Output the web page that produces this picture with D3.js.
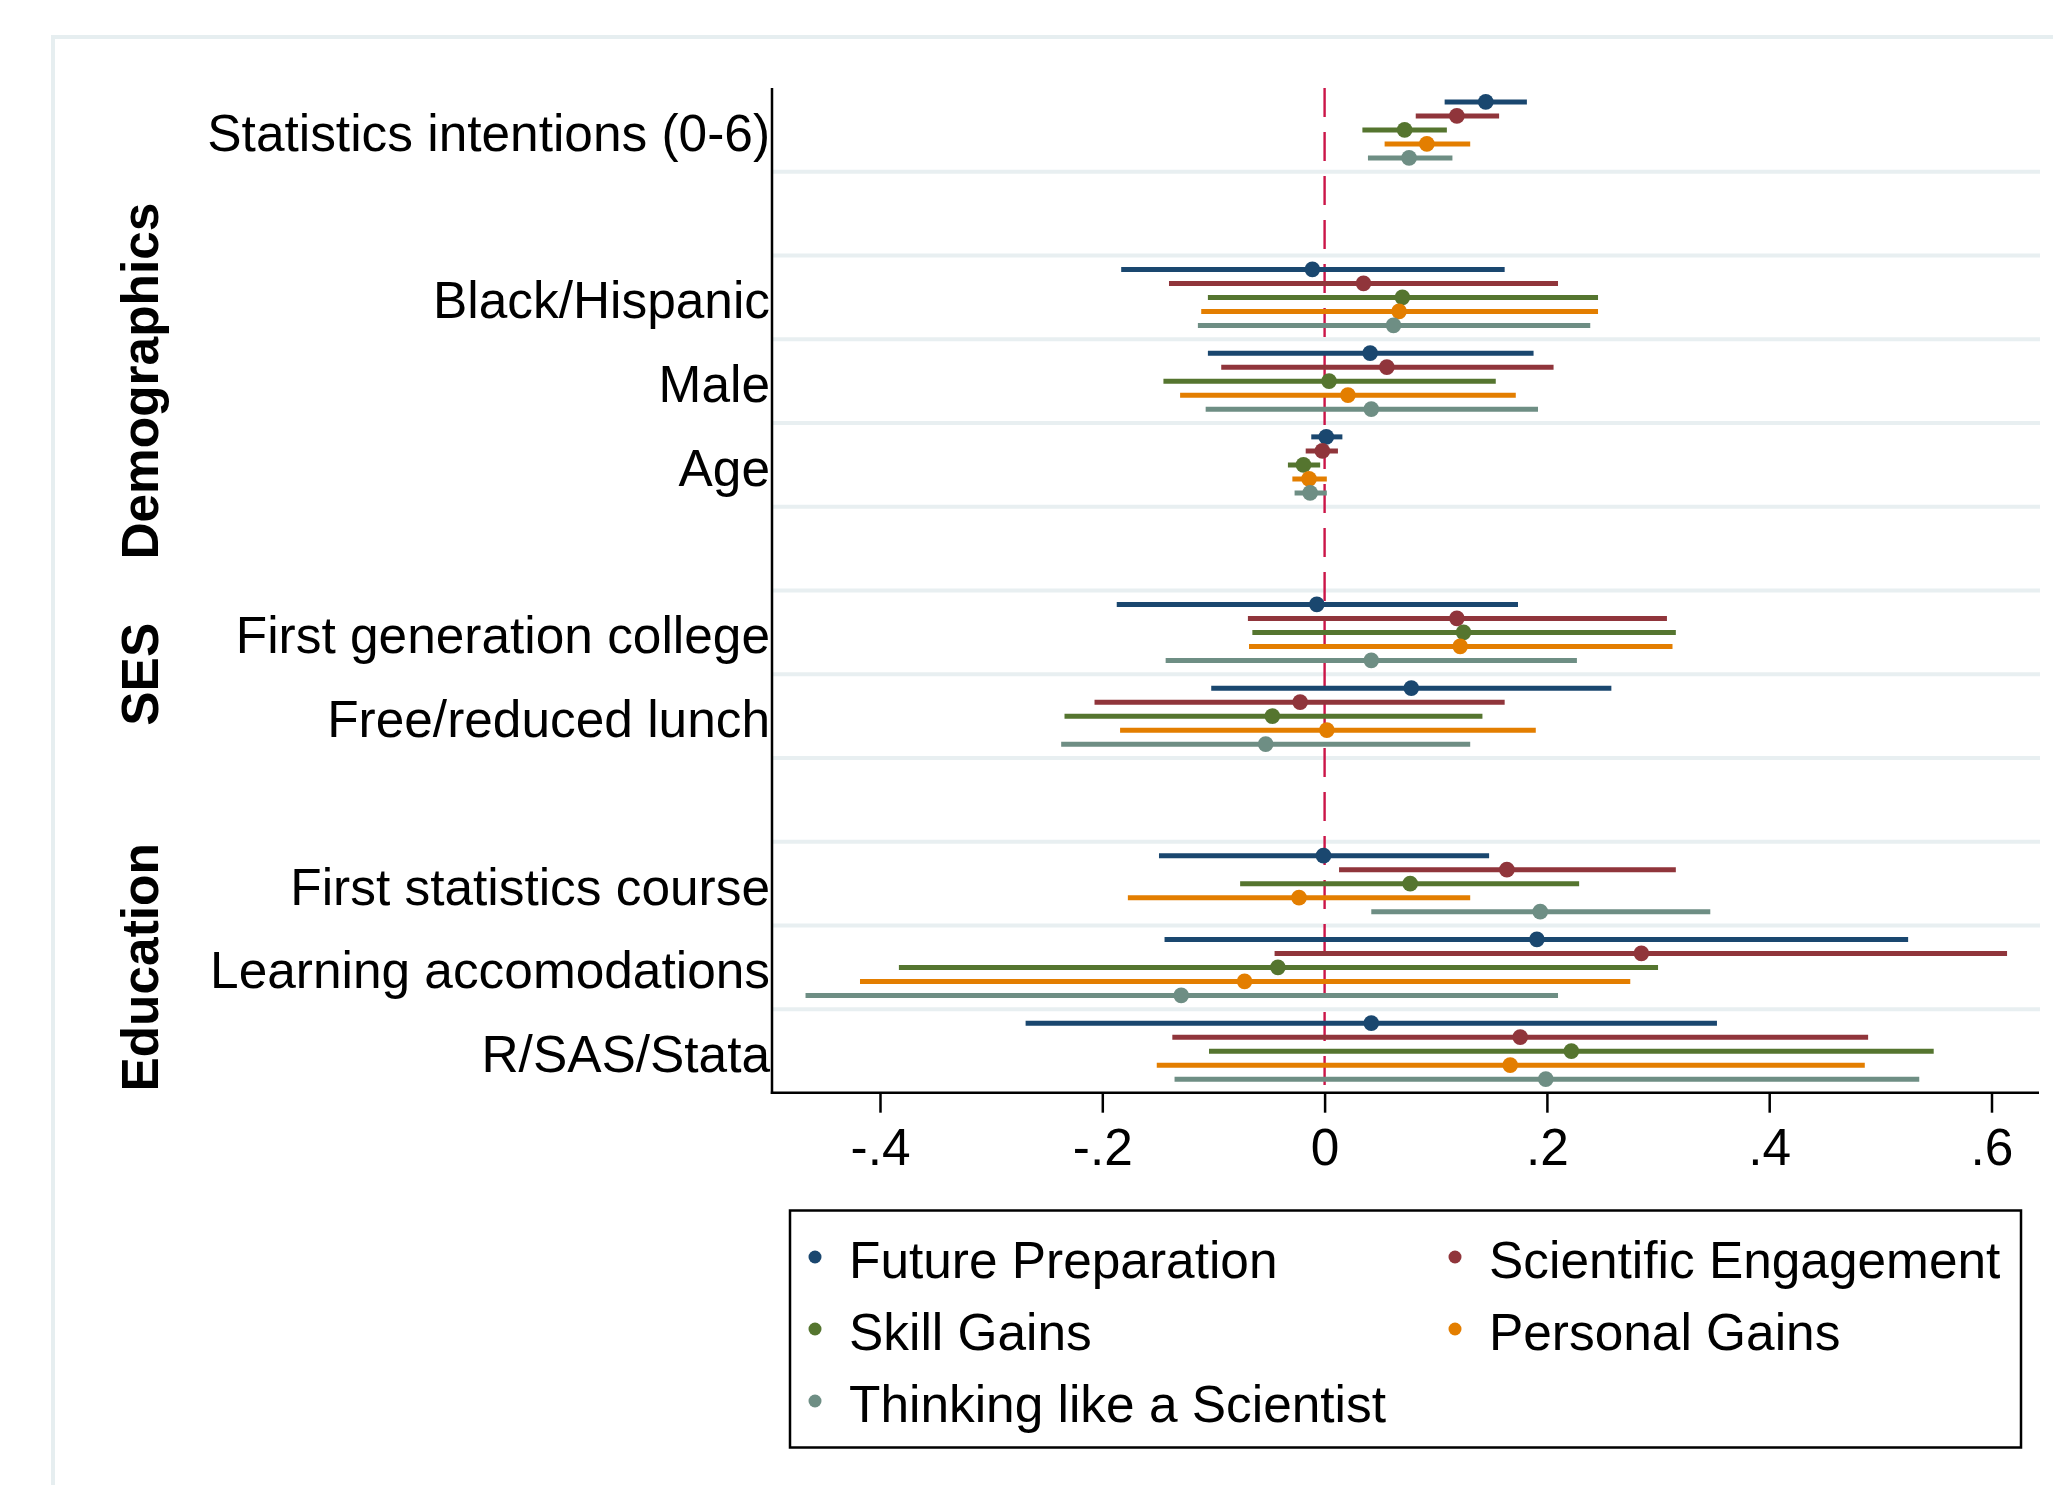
<!DOCTYPE html>
<html>
<head>
<meta charset="utf-8">
<script src="https://cdn.jsdelivr.net/npm/d3@7"></script>
<style>
  html, body { margin: 0; padding: 0; background: #ffffff; }
  svg { display: block; }
  text { font-family: "Liberation Sans", Arial, Helvetica, sans-serif; fill: #000; }
</style>
</head>
<body>
<svg id="chart" width="2053" height="1485"></svg>
<script>
// ---------------- DATA ----------------
const categories = [
  "Statistics intentions (0-6)", "Black/Hispanic", "Male", "Age",
  "First generation college", "Free/reduced lunch",
  "First statistics course", "Learning accomodations", "R/SAS/Stata"
];
// row slots (blank slots are group header gaps)
const slots = [
  "Statistics intentions (0-6)", "_gap1", "Black/Hispanic", "Male", "Age",
  "_gap2", "First generation college", "Free/reduced lunch",
  "_gap3", "First statistics course", "Learning accomodations", "R/SAS/Stata"
];
const groupNames = ["Demographics", "SES", "Education"];
const groupFirst = ["Black/Hispanic", "First generation college", "First statistics course"];
const groupLast  = ["Age", "Free/reduced lunch", "R/SAS/Stata"];

const seriesNames = ["Future Preparation", "Scientific Engagement", "Skill Gains", "Personal Gains", "Thinking like a Scientist"];
const seriesColors = ["#1a476f", "#90353b", "#55752f", "#e37e00", "#6e8e84"];

const fpEst = [0.145, -0.011, 0.041, 0.0015, -0.007, 0.078, -0.001, 0.191, 0.042];
const fpLo  = [0.108, -0.183, -0.105, -0.012, -0.187, -0.102, -0.149, -0.144, -0.269];
const fpHi  = [0.182, 0.162, 0.188, 0.016, 0.174, 0.258, 0.148, 0.525, 0.353];

const seEst = [0.119, 0.035, 0.056, -0.002, 0.119, -0.022, 0.164, 0.285, 0.176];
const seLo  = [0.082, -0.140, -0.093, -0.017, -0.069, -0.207, 0.013, -0.045, -0.137];
const seHi  = [0.157, 0.210, 0.206, 0.012, 0.308, 0.162, 0.316, 0.614, 0.489];

const sgEst = [0.072, 0.070, 0.004, -0.019, 0.125, -0.047, 0.077, -0.042, 0.222];
const sgLo  = [0.034, -0.105, -0.145, -0.033, -0.065, -0.234, -0.076, -0.383, -0.104];
const sgHi  = [0.110, 0.246, 0.154, -0.004, 0.316, 0.142, 0.229, 0.300, 0.548];

const pgEst = [0.092, 0.067, 0.021, -0.014, 0.122, 0.002, -0.023, -0.072, 0.167];
const pgLo  = [0.054, -0.111, -0.130, -0.029, -0.068, -0.184, -0.177, -0.418, -0.151];
const pgHi  = [0.131, 0.246, 0.172, 0.002, 0.313, 0.190, 0.131, 0.275, 0.486];

const tsEst = [0.076, 0.062, 0.042, -0.013, 0.042, -0.053, 0.194, -0.129, 0.199];
const tsLo  = [0.039, -0.114, -0.107, -0.027, -0.143, -0.237, 0.042, -0.467, -0.135];
const tsHi  = [0.115, 0.239, 0.192, 0.002, 0.227, 0.131, 0.347, 0.210, 0.535];

const tickValues = [-0.4, -0.2, 0, 0.2, 0.4, 0.6];
const tickLabels = ["-.4", "-.2", "0", ".2", ".4", ".6"];

// ---------------- LAYOUT ----------------
const FONT = 51.4;
const plotLeft = 772, plotRight = 2039, plotTop = 88, plotBottom = 1093;

const svg = d3.select("#chart");

const x = d3.scaleLinear().domain([-0.4, 0.6]).range([880, 1991.5]);
const y = d3.scaleBand().domain(slots).range([plotTop, plotBottom]).paddingInner(0).paddingOuter(0);
const off = d3.scalePoint().domain(seriesNames).range([-28, 28]);

const estArr = [fpEst, seEst, sgEst, pgEst, tsEst];
const loArr = [fpLo, seLo, sgLo, pgLo, tsLo];
const hiArr = [fpHi, seHi, sgHi, pgHi, tsHi];

const series = seriesNames.map((name, si) => ({
  name, color: seriesColors[si],
  values: categories.map((c, ci) => ({ cat: c, est: estArr[si][ci], lo: loArr[si][ci], hi: hiArr[si][ci] }))
}));

// outer graph region border
svg.append("rect")
  .attr("x", 53).attr("y", 37).attr("width", 2100).attr("height", 1600)
  .attr("fill", "none").attr("stroke", "#e6eef0").attr("stroke-width", 4);

// gridlines at slot boundaries
const boundaries = slots.slice(1).map(s => y(s));
svg.append("g").selectAll("line").data(boundaries).join("line")
  .attr("x1", plotLeft).attr("x2", plotRight + 1)
  .attr("y1", d => d).attr("y2", d => d)
  .attr("stroke", "#e8eff1").attr("stroke-width", 4);

// reference line at zero
svg.append("line")
  .attr("x1", x(0)).attr("x2", x(0))
  .attr("y1", plotTop).attr("y2", plotBottom)
  .attr("stroke", "#cb1548").attr("stroke-width", 2.4)
  .attr("stroke-dasharray", "29,15");

// series
const gS = svg.append("g");
series.forEach(s => {
  const g = gS.append("g");
  g.selectAll("line").data(s.values).join("line")
    .attr("x1", d => x(d.lo)).attr("x2", d => x(d.hi))
    .attr("y1", d => y(d.cat) + y.bandwidth() / 2 + off(s.name))
    .attr("y2", d => y(d.cat) + y.bandwidth() / 2 + off(s.name))
    .attr("stroke", s.color).attr("stroke-width", 5);
  g.selectAll("circle").data(s.values).join("circle")
    .attr("cx", d => x(d.est))
    .attr("cy", d => y(d.cat) + y.bandwidth() / 2 + off(s.name))
    .attr("r", 7.8)
    .attr("fill", s.color);
});

// axes lines
svg.append("line").attr("x1", plotLeft).attr("x2", plotLeft)
  .attr("y1", plotTop).attr("y2", plotBottom + 1)
  .attr("stroke", "#000").attr("stroke-width", 2.5);
const xAxisY = 1092.7;
svg.append("line").attr("x1", plotLeft - 1.2).attr("x2", plotRight)
  .attr("y1", xAxisY).attr("y2", xAxisY)
  .attr("stroke", "#000").attr("stroke-width", 2.5);

// x axis ticks via d3 axis
const xAxis = d3.axisBottom(x).tickValues(tickValues)
  .tickFormat((d, i) => tickLabels[i]).tickSize(20).tickSizeOuter(0).tickPadding(16);
const gx = svg.append("g").attr("transform", `translate(0,${xAxisY})`).call(xAxis);
gx.select(".domain").remove();
gx.selectAll(".tick line").attr("stroke", "#000").attr("stroke-width", 2.5);
gx.selectAll(".tick text").attr("font-size", FONT).attr("fill", "#000")
  .style("font-family", '"Liberation Sans", Arial, Helvetica, sans-serif');

// category labels
svg.append("g").selectAll("text").data(categories).join("text")
  .attr("x", 770)
  .attr("y", d => y(d) + y.bandwidth() / 2 + 21)
  .attr("text-anchor", "end")
  .attr("font-size", FONT)
  .text(d => d);

// group labels
svg.append("g").selectAll("text").data(groupNames).join("text")
  .attr("transform", (d, i) => {
    const cy = (y(groupFirst[i]) + y(groupLast[i]) + y.bandwidth()) / 2;
    return `translate(158,${cy}) rotate(-90)`;
  })
  .attr("text-anchor", "middle")
  .attr("font-size", FONT)
  .attr("font-weight", "bold")
  .text(d => d);

// legend
const legend = svg.append("g");
legend.append("rect")
  .attr("x", 790).attr("y", 1210.5).attr("width", 1231).attr("height", 237)
  .attr("fill", "#fff").attr("stroke", "#000").attr("stroke-width", 2.5);
const legCols = [815, 1455];
const legRows = [1278, 1350, 1422];
legend.selectAll("g.item").data(series).join("g").attr("class", "item")
  .each(function (s, i) {
    const col = i % 2, row = Math.floor(i / 2);
    const g = d3.select(this);
    g.append("circle").attr("cx", legCols[col]).attr("cy", legRows[row] - 21)
      .attr("r", 6.5).attr("fill", s.color);
    g.append("text").attr("x", legCols[col] + 34).attr("y", legRows[row])
      .attr("font-size", FONT).text(s.name);
  });
</script>
</body>
</html>
